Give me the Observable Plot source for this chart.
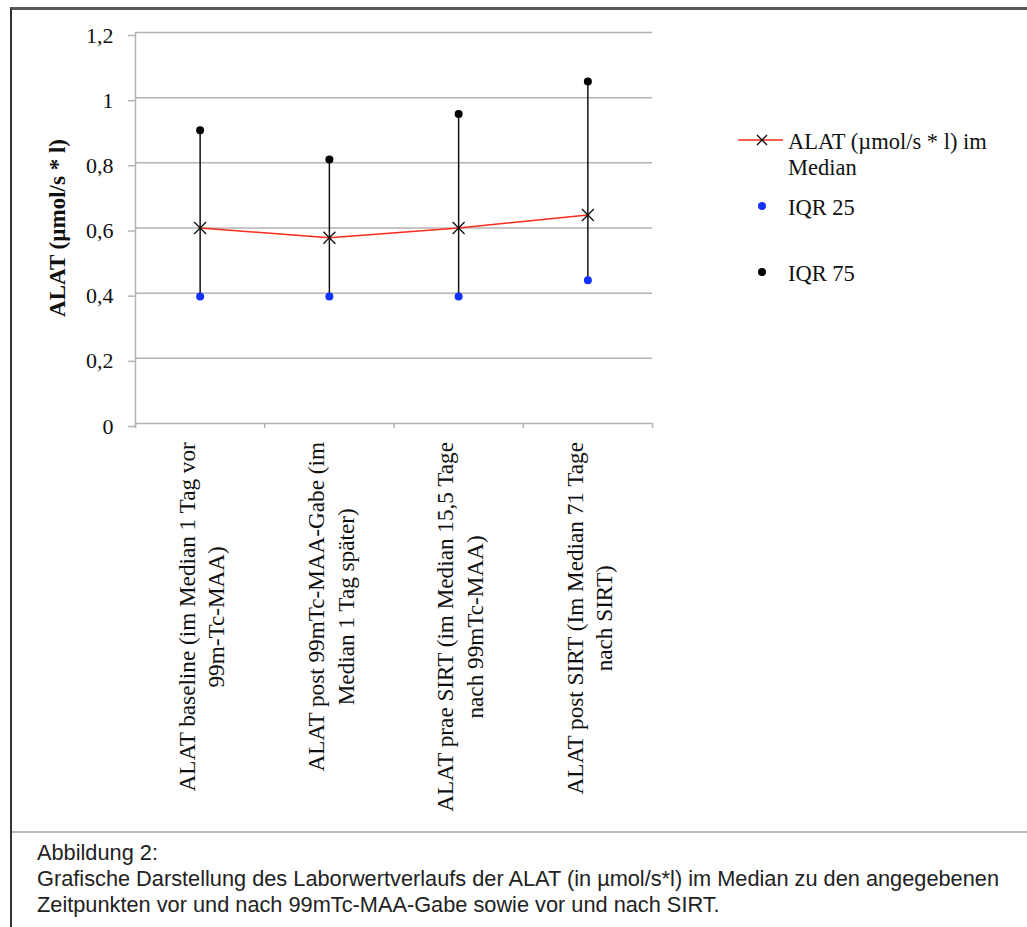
<!DOCTYPE html>
<html>
<head>
<meta charset="utf-8">
<script src="https://cdn.jsdelivr.net/npm/d3@7"></script>
<script src="https://cdn.jsdelivr.net/npm/@observablehq/plot@0.6"></script>
<style>
  html, body { margin: 0; padding: 0; background: #fff; }
  #wrap { position: relative; width: 1027px; height: 927px; overflow: hidden; }
  #frame { position: absolute; left: 10px; top: 7px; width: 1030px; height: 930px;
           border-left: 2px solid #333; border-top: 3px solid #5a5a5a; box-sizing: border-box; }
  #sep { position: absolute; left: 12px; top: 831px; width: 1020px; height: 2px; background: #b9b9b9; }
  #chart { position: absolute; left: 0; top: 0; }
  #chart svg { display: block; }
  #caption { position: absolute; left: 37px; top: 840px; font-family: "Liberation Sans", Arial, sans-serif;
             font-size: 21.75px; line-height: 25.8px; color: #222; white-space: nowrap; }
  #legend { position: absolute; left: 0; top: 0; font-family: "Liberation Serif", serif; font-size: 22.5px; color: #111; }
  .lg { position: absolute; left: 788px; line-height: 26px; white-space: nowrap; }
  .sym { position: absolute; }
</style>
</head>
<body>
<div id="wrap">
  <div id="frame"></div>
  <div id="chart"></div>
  <div id="sep"></div>
  <div id="legend"></div>
  <div id="caption"></div>
</div>
<script>
const categories = [
  "ALAT baseline (im Median 1 Tag vor\n99m-Tc-MAA)",
  "ALAT post 99mTc-MAA-Gabe (im\nMedian 1 Tag später)",
  "ALAT prae SIRT (im Median 15,5 Tage\nnach 99mTc-MAA)",
  "ALAT post SIRT (Im Median 71 Tage\nnach SIRT)"
];
const medianValues = [0.60, 0.57, 0.60, 0.64];
const iqr25Values = [0.39, 0.39, 0.39, 0.44];
const iqr75Values = [0.90, 0.81, 0.95, 1.05];
const yTicks = [0, 0.2, 0.4, 0.6, 0.8, 1.0, 1.2];
const yTitle = "ALAT (µmol/s * l)";
const legendLabels = ["ALAT (µmol/s * l) im\nMedian", "IQR 25", "IQR 75"];
const captionLines = [
  "Abbildung 2:",
  "Grafische Darstellung des Laborwertverlaufs der ALAT (in µmol/s*l) im Median zu den angegebenen",
  "Zeitpunkten vor und nach 99mTc-MAA-Gabe sowie vor und nach SIRT."
];

const data = categories.map((c, i) => ({
  i, label: c, median: medianValues[i], q25: iqr25Values[i], q75: iqr75Values[i]
}));
const boundaries = d3.range(categories.length + 1).map(k => k - 0.5);

const grid = "#b3b3b3";
const fmt = d => String(+d.toFixed(1)).replace(".", ",");

const chart = Plot.plot({
  width: 1027,
  height: 830,
  marginLeft: 135,
  marginRight: 375,
  marginTop: 32,
  marginBottom: 407,
  style: { fontFamily: "Liberation Serif, serif", fontSize: "22px", color: "#111", background: "transparent", overflow: "visible" },
  x: { domain: [-0.5, categories.length - 0.5], axis: null },
  y: { domain: [0, 1.2], axis: null },
  marks: [
    Plot.gridY(yTicks, { stroke: grid, strokeOpacity: 1, strokeWidth: 1.5 }),
    Plot.axisY({ ticks: yTicks, tickSize: 7, tickPadding: 15, tickFormat: fmt, stroke: grid, strokeWidth: 1.5, label: null, dy: 3, fill: "#111", fontSize: 22 }),
    Plot.axisX({ ticks: boundaries, tickSize: 5, tickFormat: () => "", stroke: grid, strokeWidth: 1.5, label: null }),
    Plot.ruleX([-0.5], { stroke: grid, strokeWidth: 1.5, insetBottom: -5 }),
    Plot.ruleX(data, { x: "i", y1: "q25", y2: "q75", stroke: "#111", strokeWidth: 1.5 }),
    Plot.line(data, { x: "i", y: "median", stroke: "#ff2a1a", strokeWidth: 1.5 }),
    Plot.dot(data, { x: "i", y: "q25", fill: "#1432ff", r: 4 }),
    Plot.dot(data, { x: "i", y: "q75", fill: "#000", r: 4 }),
    Plot.dot(data, { x: "i", y: "median", symbol: "times", stroke: "#111", r: 5.5, strokeWidth: 1.3 }),
    Plot.text(data, { x: "i", text: "label", frameAnchor: "bottom", rotate: -90, textAnchor: "middle", lineAnchor: "middle", lineHeight: 1.27, fontSize: 23.2, fill: "#111", className: "xlab" }),
    Plot.text([yTitle], { frameAnchor: "left", rotate: -90, textAnchor: "middle", dx: -78, fontWeight: "bold", fontSize: 23, fill: "#111" })
  ]
});
document.getElementById("chart").appendChild(chart);

// top-align rotated category labels just below the axis
const svgTop = chart.getBoundingClientRect().top;
chart.querySelectorAll("g.xlab text").forEach(t => {
  const r = t.getBoundingClientRect();
  const delta = (svgTop + 442) - r.top;
  t.setAttribute("transform", `translate(0,${delta}) ` + (t.getAttribute("transform") || ""));
});

// legend
const legend = document.getElementById("legend");
const lgTops = [129, 195, 261];
const legendColors = ["#ff2a1a", "#1432ff", "#000"];
legendLabels.forEach((lab, k) => {
  const div = document.createElement("div");
  div.className = "lg";
  div.style.top = lgTops[k] + "px";
  div.innerHTML = lab.split("\n").join("<br>");
  legend.appendChild(div);
  const ns = "http://www.w3.org/2000/svg";
  const s = document.createElementNS(ns, "svg");
  s.setAttribute("class", "sym");
  s.setAttribute("width", 50); s.setAttribute("height", 20);
  s.style.left = "736px"; s.style.top = (lgTops[k] + 1) + "px";
  if (k === 0) {
    s.innerHTML = `<line x1="2" x2="47" y1="10" y2="10" stroke="${legendColors[0]}" stroke-width="1.5"/>
      <path d="M21,5L31,15M31,5L21,15" stroke="#111" stroke-width="1.3"/>`;
  } else {
    s.innerHTML = `<circle cx="26" cy="10" r="4" fill="${legendColors[k]}"/>`;
  }
  legend.appendChild(s);
});

document.getElementById("caption").innerHTML = captionLines.join("<br>");
</script>
</body>
</html>
